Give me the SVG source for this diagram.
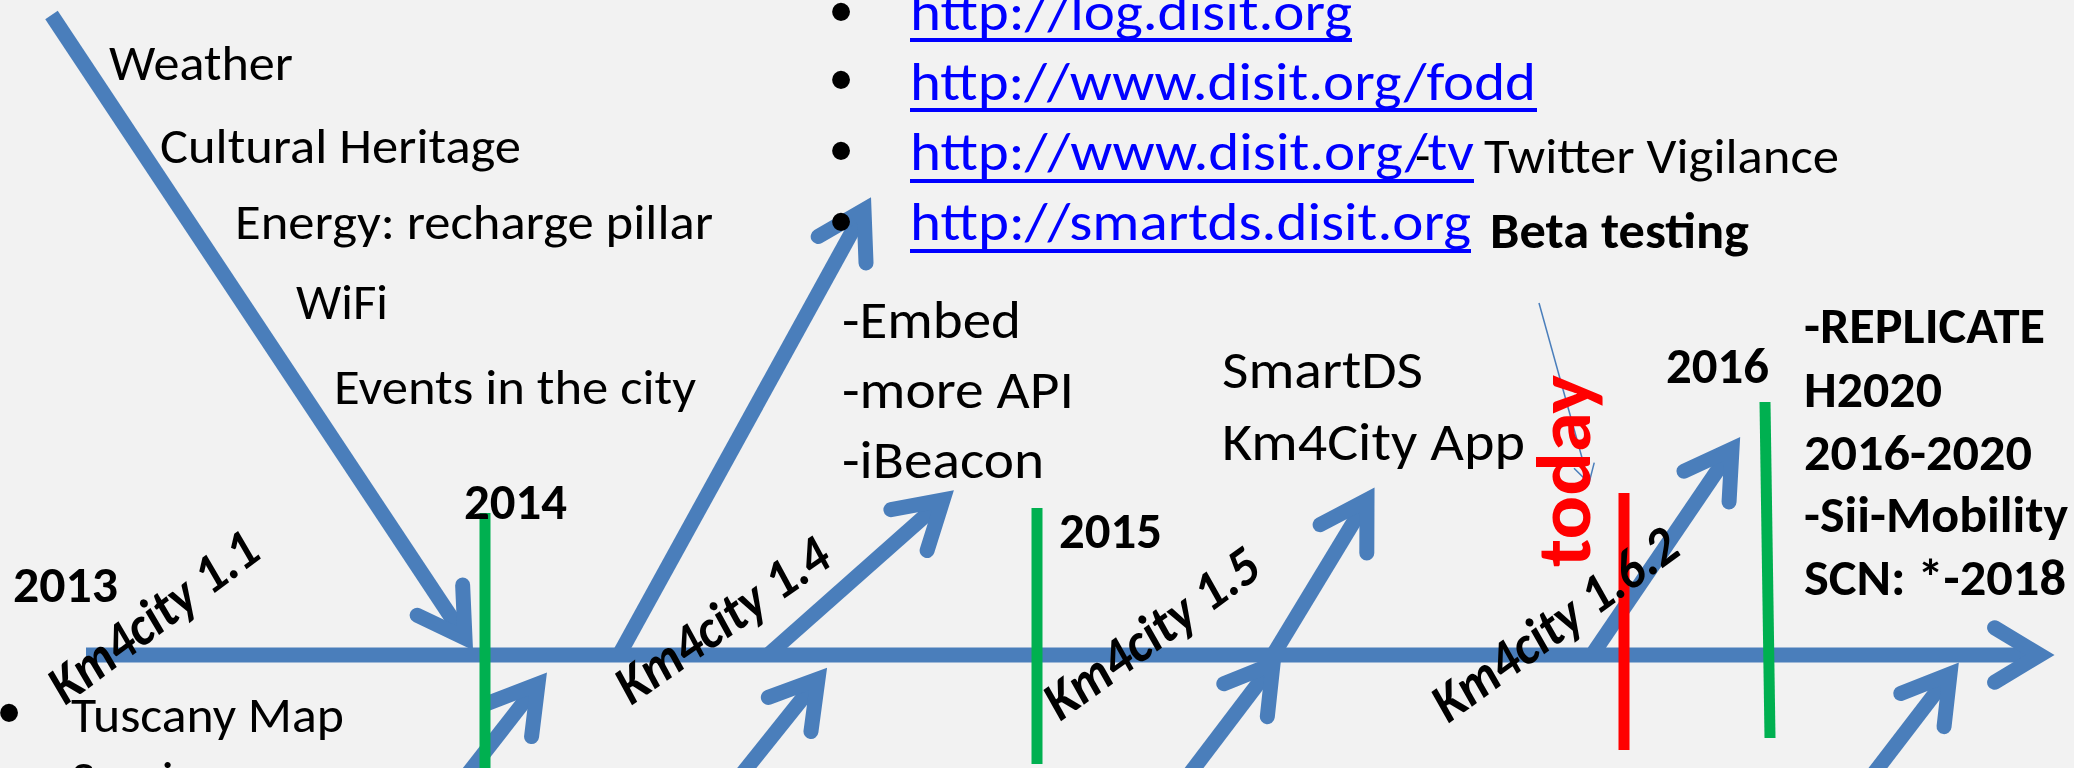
<svg xmlns="http://www.w3.org/2000/svg" width="2074" height="768" viewBox="0 0 2074 768">
<defs>
<style>
.t{font-family:Carlito,Calibri,Lato,sans-serif;fill:#000}
.r{font-size:50px}
.m{font-size:54px}
.b{font-size:50px;font-weight:bold}
.u{fill:#0000ff;font-size:54px}
.lab{font-size:55px;font-weight:bold;font-style:italic}
.bul{font-family:"Liberation Sans",Arial,sans-serif;font-size:66px;fill:#000;text-anchor:middle}
.bone{fill:none;stroke:#4a7ebb;stroke-width:15;stroke-linecap:butt}
.ul{fill:#0000ff}
.g{stroke:#00b050;stroke-width:11;fill:none}
.red{stroke:#ff0000;stroke-width:11;fill:none}
</style>
<marker id="ah" markerUnits="userSpaceOnUse" orient="auto" overflow="visible" markerWidth="10" markerHeight="10" refX="0" refY="0">
<path d="M-45.4,-27.3 L0,0 L-45.4,27.3" fill="none" stroke="#4a7ebb" stroke-width="15" stroke-linecap="round" stroke-linejoin="miter"/>
</marker>
<marker id="ahs" markerUnits="userSpaceOnUse" orient="auto" overflow="visible" markerWidth="10" markerHeight="10" refX="0" refY="0">
<path d="M-18.2,-10.5 L0,0 L-18.2,10.5" fill="none" stroke="#4a7ebb" stroke-width="1.5"/>
</marker>
</defs>
<rect width="2074" height="768" fill="#f2f2f2"/>

<g id="connectors">
<path class="bone" d="M51.5,15 L465,638" marker-end="url(#ah)"/>
<path class="bone" d="M619,655 L864,210" marker-end="url(#ah)"/>
<path class="bone" d="M768,655 L943,500" marker-end="url(#ah)"/>
<path class="bone" d="M1273,655 L1367,500" marker-end="url(#ah)"/>
<path class="bone" d="M1594,652 L1732,449" marker-end="url(#ah)"/>
<path class="bone" d="M463,780 L538,684" marker-end="url(#ah)"/>
<path class="bone" d="M738,779 L818,679" marker-end="url(#ah)"/>
<path class="bone" d="M1185,780 L1273,664" marker-end="url(#ah)"/>
<path class="bone" d="M1868,781 L1950,674" marker-end="url(#ah)"/>
<path class="bone" d="M86,655 L2040,655" stroke-width="16" marker-end="url(#ah)"/>
<path d="M1539,303 L1589,483" fill="none" stroke="#4a7ebb" stroke-width="1.5" marker-end="url(#ahs)"/>
</g>

<g id="year-lines">
<line class="g" x1="485" y1="513" x2="485" y2="770"/>
<line class="g" x1="1037" y1="508" x2="1037" y2="764"/>
<line class="g" x1="1765" y1="402" x2="1770" y2="738"/>
<line class="red" x1="1624" y1="493" x2="1624" y2="750"/>
</g>

<g id="data-list">
<text class="t r" x="109" y="80" textLength="184" lengthAdjust="spacingAndGlyphs">Weather</text>
<text class="t r" x="160" y="163" textLength="361" lengthAdjust="spacingAndGlyphs">Cultural Heritage</text>
<text class="t r" x="235" y="239" textLength="478" lengthAdjust="spacingAndGlyphs">Energy: recharge pillar</text>
<text class="t r" x="296" y="319" textLength="92" lengthAdjust="spacingAndGlyphs">WiFi</text>
<text class="t r" x="334" y="404" textLength="362" lengthAdjust="spacingAndGlyphs">Events in the city</text>
</g>

<g id="url-list">
<text class="bul" x="841" y="34">•</text>
<text class="bul" x="841" y="102">•</text>
<text class="bul" x="841" y="173">•</text>
<text class="bul" x="841" y="244">•</text>
<text class="t u" x="910" y="30" textLength="442" lengthAdjust="spacingAndGlyphs">http://log.disit.org</text>
<text class="t u" x="910" y="100" textLength="626" lengthAdjust="spacingAndGlyphs">http://www.disit.org/fodd</text>
<text class="t u" x="910" y="170" textLength="564" lengthAdjust="spacingAndGlyphs">http://www.disit.org/tv</text>
<text class="t u" x="910" y="240" textLength="561" lengthAdjust="spacingAndGlyphs">http://smartds.disit.org</text>
<rect class="ul" x="910" y="38" width="442" height="4"/>
<rect class="ul" x="910" y="108" width="627" height="4"/>
<rect class="ul" x="910" y="179" width="564" height="4"/>
<rect class="ul" x="910" y="249" width="561" height="4"/>
<text class="t" x="1415" y="172" style="font-size:50px">-</text>
<text class="t" x="1484" y="173" style="font-size:50px" textLength="355" lengthAdjust="spacingAndGlyphs">Twitter Vigilance</text>
<text class="t b" x="1490" y="248" textLength="259" lengthAdjust="spacingAndGlyphs">Beta testing</text>
</g>

<g id="features-14">
<text class="t m" x="842" y="338" textLength="179" lengthAdjust="spacingAndGlyphs">-Embed</text>
<text class="t m" x="842" y="408" textLength="232" lengthAdjust="spacingAndGlyphs">-more API</text>
<text class="t m" x="842" y="478" textLength="202" lengthAdjust="spacingAndGlyphs">-iBeacon</text>
</g>

<g id="features-15">
<text class="t m" x="1222" y="388" textLength="201" lengthAdjust="spacingAndGlyphs">SmartDS</text>
<text class="t m" x="1222" y="460" textLength="303" lengthAdjust="spacingAndGlyphs">Km4City App</text>
</g>

<g id="projects">
<text class="t b" x="1804" y="343" textLength="241" lengthAdjust="spacingAndGlyphs">-REPLICATE</text>
<text class="t b" x="1804" y="407" textLength="138" lengthAdjust="spacingAndGlyphs">H2020</text>
<text class="t b" x="1804" y="470" textLength="228" lengthAdjust="spacingAndGlyphs">2016-2020</text>
<text class="t b" x="1804" y="532" textLength="264" lengthAdjust="spacingAndGlyphs">-Sii-Mobility</text>
<text class="t b" x="1804" y="595" textLength="262" lengthAdjust="spacingAndGlyphs">SCN: *-2018</text>
</g>

<g id="years">
<text class="t b" x="13" y="602" textLength="105" lengthAdjust="spacingAndGlyphs">2013</text>
<text class="t b" x="464" y="519" textLength="103" lengthAdjust="spacingAndGlyphs">2014</text>
<text class="t b" x="1059" y="548" textLength="103" lengthAdjust="spacingAndGlyphs">2015</text>
<text class="t b" x="1666" y="383" textLength="103" lengthAdjust="spacingAndGlyphs">2016</text>
</g>

<g id="today">
<text class="t" transform="translate(1590,567) rotate(-90)" style="font-size:76px;font-weight:bold;fill:#ff0000" textLength="192" lengthAdjust="spacingAndGlyphs">today</text>
</g>

<g id="versions">
<text class="t lab" transform="translate(65,706) rotate(-37)" textLength="248" lengthAdjust="spacingAndGlyphs">Km4city 1.1</text>
<text class="t lab" transform="translate(631,706) rotate(-35)" textLength="248" lengthAdjust="spacingAndGlyphs">Km4city 1.4</text>
<text class="t lab" transform="translate(1060,722) rotate(-36)" textLength="252" lengthAdjust="spacingAndGlyphs">Km4city 1.5</text>
<text class="t lab" transform="translate(1448,724) rotate(-36)" textLength="290" lengthAdjust="spacingAndGlyphs">Km4city 1.6.2</text>
</g>

<g id="map-list">
<text class="bul" x="9" y="735">•</text>
<text class="t r" x="71" y="732" textLength="273" lengthAdjust="spacingAndGlyphs">Tuscany Map</text>
<text class="t r" x="71" y="796" textLength="170" lengthAdjust="spacingAndGlyphs">Services</text>
</g>
</svg>
